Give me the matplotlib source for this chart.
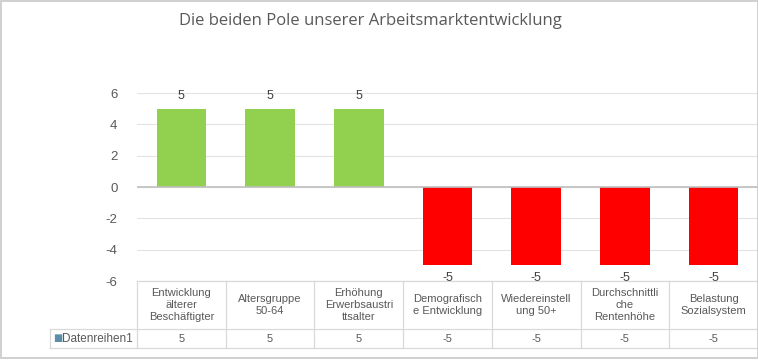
import matplotlib
matplotlib.use("Agg")
import matplotlib.pyplot as plt
from matplotlib.patches import Rectangle

title = "Die beiden Pole unserer Arbeitsmarktentwicklung"
categories = ["Entwicklung\nälterer\nBeschäftigter", "Altersgruppe\n50-64",
              "Erhöhung\nErwerbsaustri\nttsalter", "Demografisch\ne Entwicklung",
              "Wiedereinstell\nung 50+", "Durchschnittli\nche\nRentenhöhe",
              "Belastung\nSozialsystem"]
values = [5, 5, 5, -5, -5, -5, -5]
series_name = "Datenreihen1"
yticks = [-6, -4, -2, 0, 2, 4, 6]

green = "#92D050"
red = "#FF0000"
txt = "#595959"
line = "#d9d9d9"

W, H = 758, 360
fig = plt.figure(figsize=(W / 100, H / 100), dpi=100)
fig.patches.append(Rectangle((0.5 / W, 2 / H), 1 - 1 / W, 1 - 3 / H, transform=fig.transFigure,
                             fill=False, edgecolor="#c8c8c8", linewidth=1.2))

# plot area in pixels
x0, x1, ytop, ybot = 137, 758, 93, 281
ax = fig.add_axes([x0 / W, 1 - ybot / H, (x1 - x0) / W, (ybot - ytop) / H])

n = len(values)
pos = range(n)
colors = [green if v > 0 else red for v in values]
bars = ax.bar(pos, values, width=0.56, color=colors, zorder=2)
ax.bar_label(bars, labels=[f"{v:g}" for v in values], padding=5, fontsize=9,
             color="#404040", family="Liberation Sans")

ax.set_xlim(-0.5, n - 0.5)
ax.set_ylim(-6, 6)
ax.set_yticks(yticks)
ax.set_yticklabels([f"{t:g}" for t in yticks], family="Liberation Sans", fontsize=9.5, color=txt)
ax.set_xticks([])
ax.tick_params(axis="y", length=0, pad=14)
for s in ax.spines.values():
    s.set_visible(False)
ax.grid(axis="y", color="#e3e3e3", linewidth=0.8, zorder=0)
ax.axhline(0, color="#bfbfbf", linewidth=1.2, zorder=3)

# data table under the chart: x in data units, y in axes fraction
tr = ax.get_xaxis_transform()
ph = ybot - ytop
col_px = (x1 - x0) / n
y_mid = -48 / ph
y_bot = -67 / ph
x_lab = -0.5 - 87 / col_px
kw = dict(transform=tr, color=line, linewidth=0.9, clip_on=False)
ax.plot([-0.5, n - 0.5], [0, 0], **kw)
ax.plot([x_lab, n - 0.5], [y_mid, y_mid], **kw)
ax.plot([x_lab, n - 0.5], [y_bot, y_bot], **kw)
ax.plot([x_lab, x_lab], [y_mid, y_bot], **kw)
for i in range(n + 1):
    ax.plot([i - 0.5, i - 0.5], [0, y_bot], **kw)

tkw = dict(transform=tr, color=txt, fontsize=8, family="Liberation Sans", clip_on=False)
for i, (cat, v) in enumerate(zip(categories, values)):
    ax.text(i, y_mid / 2, cat, ha="center", va="center", linespacing=1.25, **tkw)
    ax.text(i, (y_mid + y_bot) / 2, f"{v:g}", ha="center", va="center", **tkw)
ax.text(x_lab + 12 / col_px, (y_mid + y_bot) / 2, series_name, ha="left", va="center",
        transform=tr, color=txt, fontsize=8.5, family="Liberation Sans", clip_on=False)
ax.text(x_lab + 3 / col_px, (y_mid + y_bot) / 2, "■", ha="left", va="center",
        transform=tr, color="#5b8fa8", fontsize=7, clip_on=False)

fig.text(370 / W, 1 - 21 / H, title, ha="center", va="center", fontsize=12,
         color=txt, family="Open Sans")

fig.savefig("out.png", dpi=100)
